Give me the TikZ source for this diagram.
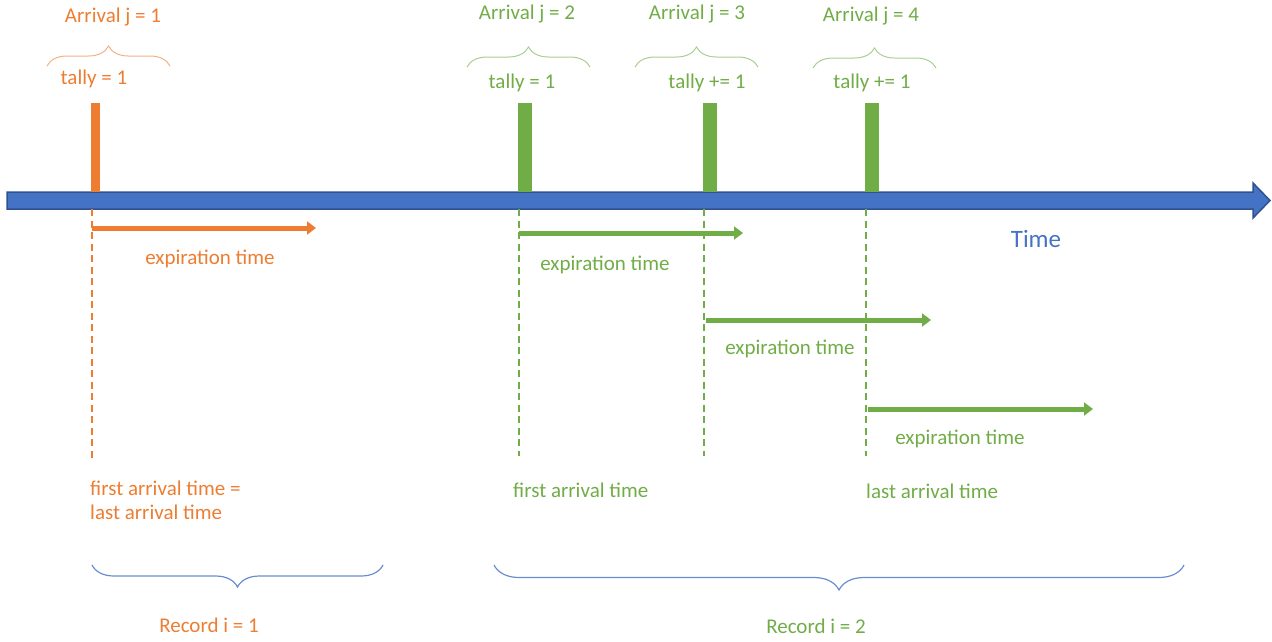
\documentclass[tikz,border=0pt]{standalone}
\usepackage{fontspec}
\setmainfont{Carlito}
\usetikzlibrary{arrows.meta,decorations.pathreplacing}
\definecolor{ora}{HTML}{ED7D31}
\definecolor{grn}{HTML}{70AD47}
\definecolor{blu}{HTML}{4472C4}
\definecolor{blud}{HTML}{2F528F}
\tikzset{
  lbl/.style={font=\fontsize{21}{25}\selectfont, inner sep=0pt},
  bar/.style={fill=#1, draw=none},
  vdash/.style={draw=#1, line width=2pt, dash pattern=on 7pt off 4.5pt},
  expi/.style={draw=#1, line width=5pt, -{Triangle[length=9pt,width=13pt]}},
  topbrace/.style={draw=#1!60!white, line width=1pt, decorate, decoration={brace, amplitude=20pt}},
  botbrace/.style={draw=blu!80!white, line width=1.2pt, decorate, decoration={brace, mirror, amplitude=#1}},
}
\begin{document}
\begin{tikzpicture}[x=1pt,y=-1pt]
\useasboundingbox (0,0) rectangle (1272,641);
% time axis
\fill[blu, draw=blud, line width=1.5pt] (7,192) -- (1253,192) -- (1253,183) -- (1270,200.5) -- (1253,218) -- (1253,209) -- (7,209) -- cycle;
\node[lbl, text=blu, font=\fontsize{25}{29}\selectfont] (time) at (1036,239) {Time};
% bars
\fill[bar=ora] (91,103) rectangle (100,192);
\fill[bar=grn] (518,103) rectangle (532,192);
\fill[bar=grn] (703,103) rectangle (717,192);
\fill[bar=grn] (865,103) rectangle (879,192);
% coordinates
\coordinate (o1) at (92,209);  \coordinate (o1e) at (92,460);
\coordinate (g2) at (519,209); \coordinate (g2e) at (519,456);
\coordinate (g3) at (704,209); \coordinate (g3e) at (704,456);
\coordinate (g4) at (866,209); \coordinate (g4e) at (866,456);
% dashed lines
\draw[vdash=ora] (o1) -- (o1e);
\draw[vdash=grn] (g2) -- (g2e);
\draw[vdash=grn] (g3) -- (g3e);
\draw[vdash=grn] (g4) -- (g4e);
% expiration arrows
\coordinate (a1s) at (92,228);  \coordinate (a1e) at (316,228);
\coordinate (a2s) at (519,233); \coordinate (a2e) at (743,233);
\coordinate (a3s) at (706,320); \coordinate (a3e) at (931,320);
\coordinate (a4s) at (868,409); \coordinate (a4e) at (1093,409);
\draw[expi=ora] (a1s) -- (a1e);
\draw[expi=grn] (a2s) -- (a2e);
\draw[expi=grn] (a3s) -- (a3e);
\draw[expi=grn] (a4s) -- (a4e);
\node[lbl, text=ora] (e1) at (210,259) {expiration time};
\node[lbl, text=grn] (e2) at (605,265) {expiration time};
\node[lbl, text=grn] (e3) at (790,349) {expiration time};
\node[lbl, text=grn] (e4) at (960,439) {expiration time};
% top braces
\coordinate (b1l) at (47,66);  \coordinate (b1r) at (170,66);
\coordinate (b2l) at (467,67); \coordinate (b2r) at (590,67);
\coordinate (b3l) at (635,67); \coordinate (b3r) at (758,67);
\coordinate (b4l) at (813,68); \coordinate (b4r) at (936,68);
\draw[topbrace=ora] (b1l) -- (b1r);
\draw[topbrace=grn] (b2l) -- (b2r);
\draw[topbrace=grn] (b3l) -- (b3r);
\draw[topbrace=grn] (b4l) -- (b4r);
\node[lbl, text=ora] (arr1) at (113,17) {Arrival j = 1};
\node[lbl, text=grn] (arr2) at (527,14) {Arrival j = 2};
\node[lbl, text=grn] (arr3) at (697,14) {Arrival j = 3};
\node[lbl, text=grn] (arr4) at (871,16) {Arrival j = 4};
\node[lbl, text=ora] (t1) at (94,79) {tally = 1};
\node[lbl, text=grn] (t2) at (522,83) {tally = 1};
\node[lbl, text=grn] (t3) at (707,83) {tally += 1};
\node[lbl, text=grn] (t4) at (872,83) {tally += 1};
% bottom labels
\node[lbl, text=ora, anchor=west] (f1) at (90,488) {first arrival time =};
\node[lbl, text=ora, anchor=west] (l1) at (90,512) {last arrival time};
\node[lbl, text=grn, anchor=west] (f2) at (513,490) {first arrival time};
\node[lbl, text=grn, anchor=west] (l2) at (866,491) {last arrival time};
% record braces
\coordinate (r1l) at (92,565);  \coordinate (r1r) at (383,565);
\coordinate (r2l) at (494,565); \coordinate (r2r) at (1184,565);
\draw[botbrace=22pt] (r1l) -- (r1r);
\draw[botbrace=25pt] (r2l) -- (r2r);
\node[lbl, text=ora] (rec1) at (209,625) {Record i = 1};
\node[lbl, text=grn] (rec2) at (816,626) {Record i = 2};
\end{tikzpicture}
\end{document}
